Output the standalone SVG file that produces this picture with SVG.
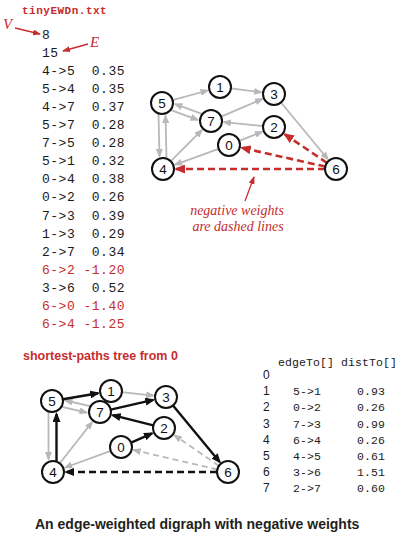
<svg xmlns="http://www.w3.org/2000/svg" width="403" height="537" viewBox="0 0 403 537">
<style>
.mono{font-family:"Liberation Mono","DejaVu Sans Mono",monospace;font-size:13px;letter-spacing:0.5px;fill:#1a1a1a;white-space:pre}
.neg{fill:#c62d2d}
.tmono{font-family:"Liberation Mono","DejaVu Sans Mono",monospace;font-size:11.5px;letter-spacing:0.1px;fill:#1a1a1a;white-space:pre}
.idx{font-family:"Liberation Sans","Open Sans",sans-serif;font-size:12px;fill:#1a1a1a}
.ann{font-family:"Liberation Serif",serif;font-style:italic;fill:#c62d2d}
.node circle{fill:#fff;stroke:#111;stroke-width:2}
.node text{font-family:"Liberation Sans","Open Sans",sans-serif;font-size:13.5px;fill:#111;text-anchor:middle}
.g{stroke:#b8b8b8;stroke-width:1.8;fill:none;marker-end:url(#aG)}
.gd{stroke:#b8b8b8;stroke-width:1.8;fill:none;stroke-dasharray:6 4;marker-end:url(#aG)}
.b{stroke:#111;stroke-width:2.4;fill:none;marker-end:url(#aB)}
.bd{stroke:#111;stroke-width:2.4;fill:none;stroke-dasharray:7 4;marker-end:url(#aB)}
.rd{stroke:#c62d2d;stroke-width:2.6;fill:none;stroke-dasharray:7 4;marker-end:url(#aR)}
.rt{stroke:#c62d2d;stroke-width:1.3;fill:none;marker-end:url(#aRs)}
</style>
<defs>
<marker id="aG" markerUnits="userSpaceOnUse" markerWidth="9" markerHeight="7" refX="7" refY="3.5" orient="auto"><path d="M0,0 L9,3.5 L0,7 z" fill="#b8b8b8"/></marker>
<marker id="aB" markerUnits="userSpaceOnUse" markerWidth="10" markerHeight="8" refX="8" refY="4" orient="auto"><path d="M0,0 L10,4 L0,8 z" fill="#111"/></marker>
<marker id="aR" markerUnits="userSpaceOnUse" markerWidth="11" markerHeight="9" refX="9" refY="4.5" orient="auto"><path d="M0,0 L11,4.5 L0,9 z" fill="#c62d2d"/></marker>
<marker id="aRs" markerUnits="userSpaceOnUse" markerWidth="8" markerHeight="6" refX="7" refY="3" orient="auto"><path d="M0,0 L8,3 L0,6 z" fill="#c62d2d"/></marker>
</defs>

<g id="file-listing" xml:space="preserve">
<text x="22" y="14" style="font-family:'Liberation Mono','DejaVu Sans Mono',monospace;font-size:11px;font-weight:bold;letter-spacing:0.5px;fill:#c62d2d">tinyEWDn.txt</text>
<text class="mono" x="42" y="38.5">8</text>
<text class="mono" x="42" y="56.6">15</text>
<text class="mono" x="42" y="74.7">4-&gt;5  0.35</text>
<text class="mono" x="42" y="92.8">5-&gt;4  0.35</text>
<text class="mono" x="42" y="110.9">4-&gt;7  0.37</text>
<text class="mono" x="42" y="129">5-&gt;7  0.28</text>
<text class="mono" x="42" y="147.1">7-&gt;5  0.28</text>
<text class="mono" x="42" y="165.2">5-&gt;1  0.32</text>
<text class="mono" x="42" y="183.3">0-&gt;4  0.38</text>
<text class="mono" x="42" y="201.4">0-&gt;2  0.26</text>
<text class="mono" x="42" y="219.5">7-&gt;3  0.39</text>
<text class="mono" x="42" y="237.6">1-&gt;3  0.29</text>
<text class="mono" x="42" y="255.7">2-&gt;7  0.34</text>
<text class="mono neg" x="42" y="273.8">6-&gt;2 -1.20</text>
<text class="mono" x="42" y="291.9">3-&gt;6  0.52</text>
<text class="mono neg" x="42" y="310">6-&gt;0 -1.40</text>
<text class="mono neg" x="42" y="328.1">6-&gt;4 -1.25</text>
<text class="ann" x="3" y="29" style="font-size:15px">V</text>
<text class="ann" x="90" y="47" style="font-size:15px">E</text>
</g>

<g id="connectors">
<line class="rt" x1="15" y1="28" x2="40" y2="34"/>
<line class="rt" x1="88" y1="44" x2="63" y2="51"/>
<line class="g" x1="172.6" y1="100.1" x2="207.5" y2="90.5"/>
<line class="g" x1="230.9" y1="88.4" x2="261.1" y2="92.3"/>
<line class="g" x1="221.1" y1="116.7" x2="262.1" y2="99.1"/>
<line class="g" x1="263.1" y1="126" x2="223.9" y2="122.2"/>
<line class="g" x1="239.2" y1="140.9" x2="261.9" y2="131.8"/>
<line class="g" x1="218.7" y1="148.8" x2="175.2" y2="164.6"/>
<line class="g" x1="170.8" y1="161.2" x2="201.8" y2="130.2"/>
<line class="g" x1="281" y1="102.5" x2="327.7" y2="159"/>
<line class="g" x1="171.1" y1="110.1" x2="197.6" y2="119.8"/>
<line class="g" x1="201.9" y1="113.9" x2="175.4" y2="104.2"/>
<line class="g" x1="158.5" y1="114" x2="159.5" y2="156"/>
<line class="g" x1="166.5" y1="158" x2="165.5" y2="116"/>
<line class="rd" x1="326.9" y1="162.8" x2="284.8" y2="134.3"/>
<line class="rd" x1="325.3" y1="166.6" x2="241.7" y2="147.8"/>
<line class="rd" x1="325" y1="169" x2="176" y2="169"/>
<line class="rt" x1="245" y1="201" x2="254" y2="177"/>
<line class="g" x1="121.9" y1="392.2" x2="153.1" y2="395.6"/>
<line class="g" x1="110.7" y1="450.8" x2="65.2" y2="467.5"/>
<line class="g" x1="59.8" y1="463.3" x2="92" y2="422.2"/>
<line class="g" x1="61.9" y1="406.9" x2="86.5" y2="412.5"/>
<line class="g" x1="90.1" y1="406.1" x2="65.5" y2="400.5"/>
<line class="g" x1="48.5" y1="412" x2="48.5" y2="459"/>
<line class="gd" x1="218.9" y1="465.8" x2="174.7" y2="435.4"/>
<line class="gd" x1="217.3" y1="469.5" x2="133.7" y2="450"/>
<line class="b" x1="62.8" y1="399.2" x2="98.2" y2="393.2"/>
<line class="b" x1="110.7" y1="409.6" x2="153.3" y2="399.9"/>
<line class="b" x1="153.3" y1="425.3" x2="112.6" y2="415.2"/>
<line class="b" x1="131.1" y1="442.6" x2="152.1" y2="433.3"/>
<line class="b" x1="173" y1="405.5" x2="219.7" y2="462"/>
<line class="b" x1="56.5" y1="461" x2="56.5" y2="414"/>
<line class="bd" x1="217" y1="472" x2="66" y2="472"/>
</g>

<g id="top-0" class="node"><circle cx="229" cy="145" r="11"/><text x="229" y="149.8">0</text></g>
<g id="top-1" class="node"><circle cx="220" cy="87" r="11"/><text x="220" y="91.8">1</text></g>
<g id="top-2" class="node"><circle cx="274" cy="127" r="11"/><text x="274" y="131.8">2</text></g>
<g id="top-3" class="node"><circle cx="274" cy="94" r="11"/><text x="274" y="98.8">3</text></g>
<g id="top-4" class="node"><circle cx="163" cy="169" r="11"/><text x="163" y="173.8">4</text></g>
<g id="top-5" class="node"><circle cx="162" cy="103" r="11"/><text x="162" y="107.8">5</text></g>
<g id="top-6" class="node"><circle cx="336" cy="169" r="11"/><text x="336" y="173.8">6</text></g>
<g id="top-7" class="node"><circle cx="211" cy="121" r="11"/><text x="211" y="125.8">7</text></g>

<g id="negative-note">
<text class="ann" x="237" y="215" text-anchor="middle" style="font-size:14px">negative weights</text>
<text class="ann" x="238" y="231" text-anchor="middle" style="font-size:14px">are dashed lines</text>
</g>

<text x="23" y="360" style="font-family:'Liberation Sans','Open Sans',sans-serif;font-size:12.5px;font-weight:bold;fill:#c62d2d">shortest-paths tree from 0</text>

<g id="sp-0" class="node"><circle cx="121" cy="447" r="11"/><text x="121" y="451.8">0</text></g>
<g id="sp-1" class="node"><circle cx="111" cy="391" r="11"/><text x="111" y="395.8">1</text></g>
<g id="sp-2" class="node"><circle cx="164" cy="428" r="11"/><text x="164" y="432.8">2</text></g>
<g id="sp-3" class="node"><circle cx="166" cy="397" r="11"/><text x="166" y="401.8">3</text></g>
<g id="sp-4" class="node"><circle cx="53" cy="472" r="11"/><text x="53" y="476.8">4</text></g>
<g id="sp-5" class="node"><circle cx="52" cy="401" r="11"/><text x="52" y="405.8">5</text></g>
<g id="sp-6" class="node"><circle cx="228" cy="472" r="11"/><text x="228" y="476.8">6</text></g>
<g id="sp-7" class="node"><circle cx="100" cy="412" r="11"/><text x="100" y="416.8">7</text></g>

<g id="table" xml:space="preserve">
<text class="tmono" x="278" y="365.5">edgeTo[] distTo[]</text>
<text class="idx" x="263" y="379.3">0</text>
<text class="idx" x="263" y="395.4">1</text><text class="tmono" x="293" y="395.4">5-&gt;1</text><text class="tmono" x="357" y="395.4">0.93</text>
<text class="idx" x="263" y="411.4">2</text><text class="tmono" x="293" y="411.4">0-&gt;2</text><text class="tmono" x="357" y="411.4">0.26</text>
<text class="idx" x="263" y="427.5">3</text><text class="tmono" x="293" y="427.5">7-&gt;3</text><text class="tmono" x="357" y="427.5">0.99</text>
<text class="idx" x="263" y="443.5">4</text><text class="tmono" x="293" y="443.5">6-&gt;4</text><text class="tmono" x="357" y="443.5">0.26</text>
<text class="idx" x="263" y="459.6">5</text><text class="tmono" x="293" y="459.6">4-&gt;5</text><text class="tmono" x="357" y="459.6">0.61</text>
<text class="idx" x="263" y="475.6">6</text><text class="tmono" x="293" y="475.6">3-&gt;6</text><text class="tmono" x="357" y="475.6">1.51</text>
<text class="idx" x="263" y="491.7">7</text><text class="tmono" x="293" y="491.7">2-&gt;7</text><text class="tmono" x="357" y="491.7">0.60</text>
</g>

<text x="35" y="529" style="font-family:'Liberation Sans','Open Sans',sans-serif;font-size:14px;font-weight:bold;fill:#231f20">An edge-weighted digraph with negative weights</text>
</svg>
